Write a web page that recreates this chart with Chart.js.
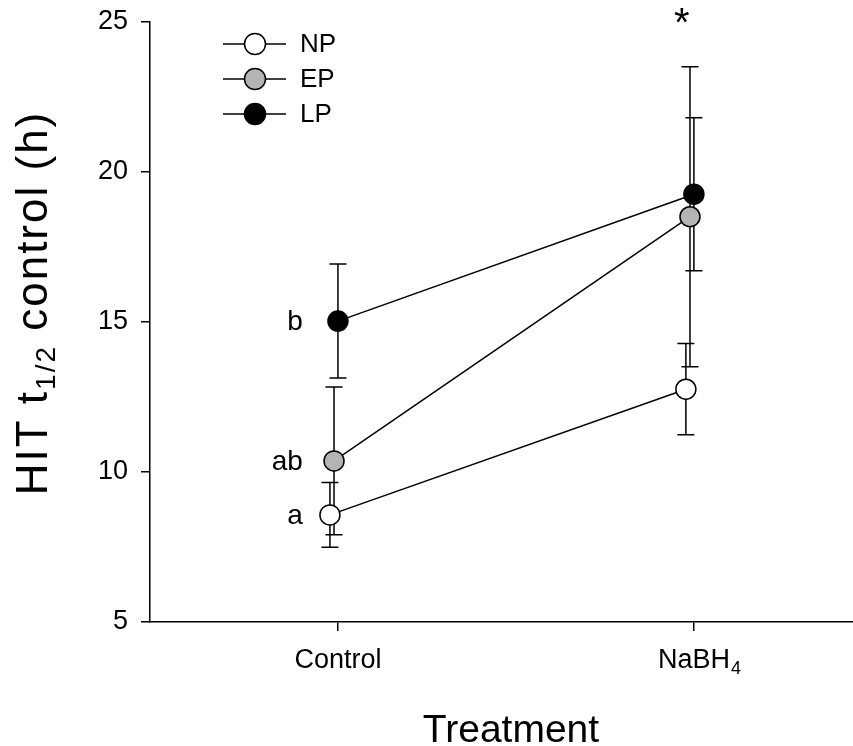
<!DOCTYPE html>
<html>
<head>
<meta charset="utf-8">
<script src="https://cdn.jsdelivr.net/npm/chart.js@4.4.1/dist/chart.umd.min.js"></script>
<style>
  html, body { margin: 0; padding: 0; background: #fff; }
  #wrap { width: 853px; height: 746px; position: relative; }
</style>
</head>
<body>
<div id="wrap"><canvas id="chart"></canvas></div>
<script>
// data
const categories = ['Control', 'NaBH4'];
const seriesNames = ['NP', 'EP', 'LP'];
const npMean = [8.57, 12.76];
const npErr = [1.08, 1.52];
const epMean = [10.37, 18.51];
const epErr = [2.46, 5.0];
const lpMean = [15.03, 19.26];
const lpErr = [1.9, 2.55];
const controlLetters = ['a', 'ab', 'b'];
const yTicks = [5, 10, 15, 20, 25];

const FONT = "'Liberation Sans', Arial, sans-serif";
const fills = ['#ffffff', '#b4b4b4', '#000000'];
const jitter = [-0.0225, -0.011, 0];   // small sideways shift per series
const means = [npMean, epMean, lpMean];
const errs = [npErr, epErr, lpErr];

const datasets = seriesNames.map(function (name, i) {
    return {
        label: name,
        data: means[i].map(function (v, j) { return { x: j + 1 + jitter[i], y: v }; }),
        showLine: true,
        borderColor: '#000',
        borderWidth: 1.5,
        pointRadius: 10,
        pointHoverRadius: 10,
        pointBackgroundColor: fills[i],
        pointBorderColor: '#000',
        pointBorderWidth: 1.5,
        order: seriesNames.length - 1 - i
    };
});

const extras = {
    id: 'extras',
    beforeDatasetsDraw(chart) {
        const ctx = chart.ctx;
        const xs = chart.scales.x, ys = chart.scales.y;
        ctx.save();
        ctx.strokeStyle = '#000';
        ctx.lineWidth = 1.5;
        means.forEach(function (m, i) {
            m.forEach(function (v, j) {
                const x = xs.getPixelForValue(j + 1 + jitter[i]);
                const hi = ys.getPixelForValue(v + errs[i][j]);
                const lo = ys.getPixelForValue(v - errs[i][j]);
                ctx.beginPath();
                ctx.moveTo(x, hi); ctx.lineTo(x, lo);
                ctx.moveTo(x - 8.5, hi); ctx.lineTo(x + 8.5, hi);
                ctx.moveTo(x - 8.5, lo); ctx.lineTo(x + 8.5, lo);
                ctx.stroke();
            });
        });
        ctx.restore();
    },
    afterDraw(chart) {
        const ctx = chart.ctx;
        const xs = chart.scales.x, ys = chart.scales.y;
        ctx.save();
        ctx.fillStyle = '#000';
        ctx.strokeStyle = '#000';

        // legend
        seriesNames.forEach(function (name, i) {
            const y = 44 + i * 35;
            ctx.lineWidth = 1.5;
            ctx.beginPath();
            ctx.moveTo(223, y); ctx.lineTo(286, y);
            ctx.stroke();
            ctx.beginPath();
            ctx.arc(255, y, 10.5, 0, Math.PI * 2);
            ctx.fillStyle = fills[i];
            ctx.fill();
            ctx.stroke();
            ctx.fillStyle = '#000';
            ctx.font = '26px ' + FONT;
            ctx.textAlign = 'left';
            ctx.textBaseline = 'middle';
            ctx.fillText(name, 300, y + 1);
        });

        // letters next to the Control means
        ctx.font = '28px ' + FONT;
        ctx.textAlign = 'right';
        ctx.textBaseline = 'middle';
        controlLetters.forEach(function (t, i) {
            ctx.fillText(t, xs.getPixelForValue(1) - 35, ys.getPixelForValue(means[i][0]) + 1);
        });

        // significance star over NaBH4
        ctx.font = '40px ' + FONT;
        ctx.textAlign = 'center';
        ctx.textBaseline = 'alphabetic';
        ctx.fillText('*', xs.getPixelForValue(2) - 12, 36);

        // x tick labels
        ctx.font = '27px ' + FONT;
        ctx.textBaseline = 'alphabetic';
        categories.forEach(function (c, j) {
            const x = xs.getPixelForValue(j + 1);
            const m = c.match(/^(.*?)(\d+)$/);
            if (m) {
                ctx.textAlign = 'center';
                ctx.fillText(m[1], x, 668);
                const w = ctx.measureText(m[1]).width;
                ctx.font = '18px ' + FONT;
                ctx.textAlign = 'left';
                ctx.fillText(m[2], x + w / 2 + 1, 674);
                ctx.font = '27px ' + FONT;
            } else {
                ctx.textAlign = 'center';
                ctx.fillText(c, x, 668);
            }
        });

        // x title
        ctx.font = '39px ' + FONT;
        ctx.textAlign = 'center';
        ctx.fillText('Treatment', 511, 742);

        // y title with subscript
        ctx.translate(47, 303);
        ctx.rotate(-Math.PI / 2);
        ctx.letterSpacing = '2px';
        const big = '44px ' + FONT, small = '28px ' + FONT;
        ctx.font = big; const w1 = ctx.measureText('HIT t').width;
        ctx.font = small; const w2 = ctx.measureText('1/2').width;
        ctx.font = big; const w3 = ctx.measureText(' control (h)').width;
        let x0 = -(w1 + w2 + w3) / 2;
        ctx.textAlign = 'left';
        ctx.font = big; ctx.fillText('HIT t', x0, 0);
        ctx.font = small; ctx.fillText('1/2', x0 + w1, 8);
        ctx.font = big; ctx.fillText(' control (h)', x0 + w1 + w2, 0);
        ctx.restore();
    }
};

new Chart(document.getElementById('chart'), {
    type: 'scatter',
    data: { datasets: datasets },
    options: {
        responsive: true,
        maintainAspectRatio: false,
        animation: false,
        events: [],
        layout: { autoPadding: false, padding: { top: 22, right: 0, bottom: 0, left: 0 } },
        plugins: {
            legend: { display: false },
            tooltip: { enabled: false }
        },
        scales: {
            x: {
                type: 'linear',
                min: 0.472,
                max: 2.447,
                afterFit: function (s) { s.height = 124; s.paddingLeft = 0; s.paddingRight = 0; },
                afterBuildTicks: function (s) {
                    s.ticks = categories.map(function (c, j) { return { value: j + 1 }; });
                },
                grid: { drawOnChartArea: false, drawTicks: true, tickLength: 9, color: '#000', lineWidth: 1.5 },
                border: { display: true, color: '#000', width: 1.5 },
                ticks: { display: false }
            },
            y: {
                min: 5,
                max: 25,
                afterFit: function (s) { s.width = 150; s.paddingTop = 0; s.paddingBottom = 0; },
                afterBuildTicks: function (s) {
                    s.ticks = yTicks.map(function (v) { return { value: v }; });
                },
                grid: { drawOnChartArea: false, drawTicks: true, tickLength: 9, color: '#000', lineWidth: 1.5 },
                border: { display: true, color: '#000', width: 1.5 },
                ticks: { padding: 13, color: '#000', font: { family: FONT, size: 27 } }
            }
        }
    },
    plugins: [extras]
});
</script>
</body>
</html>
